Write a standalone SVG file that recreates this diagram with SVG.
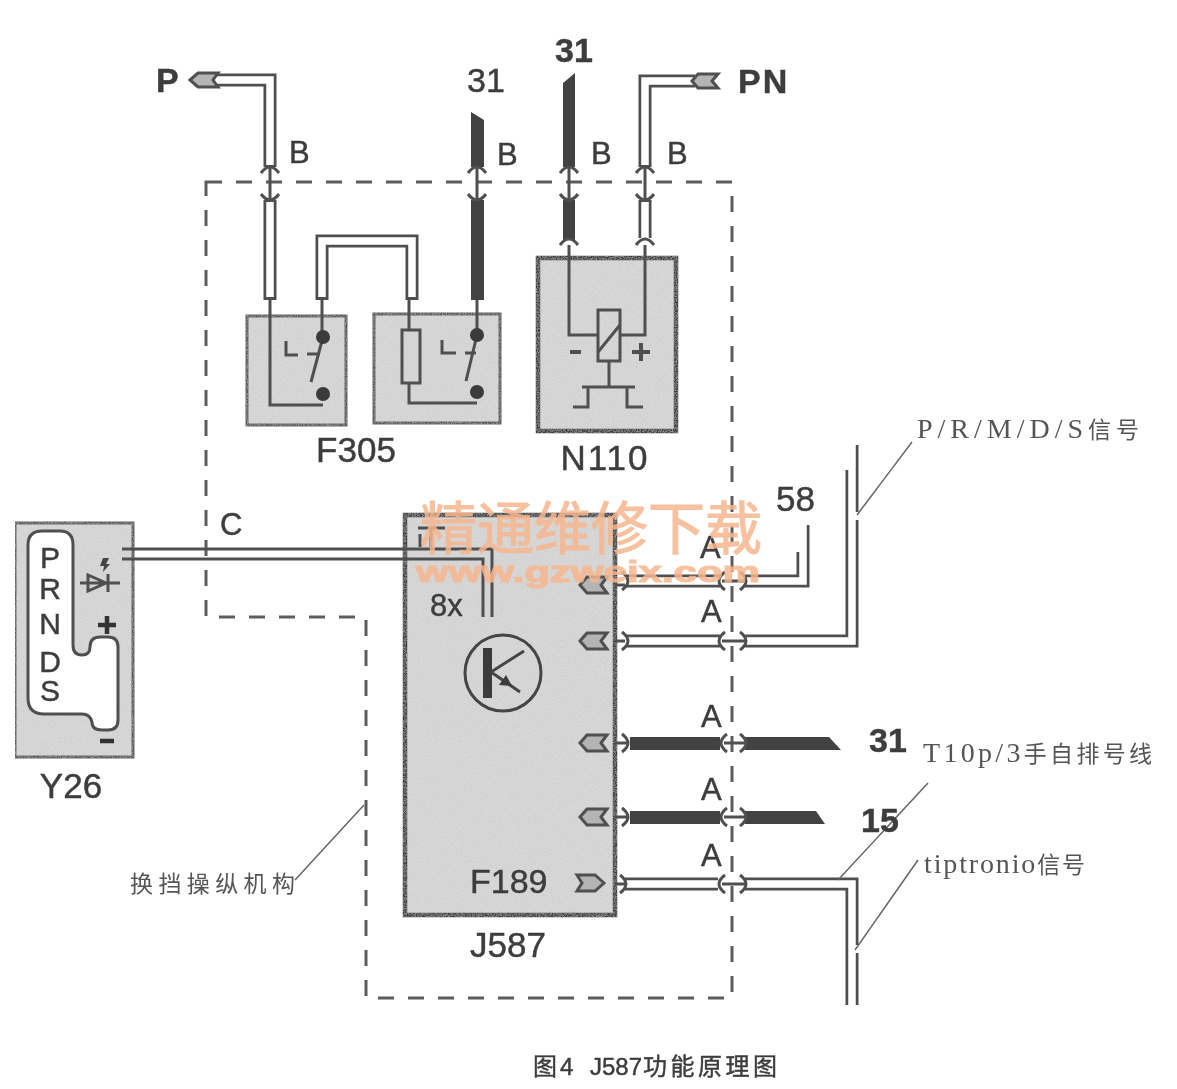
<svg xmlns="http://www.w3.org/2000/svg" width="1177" height="1089" viewBox="0 0 1177 1089">
<style>
text{font-family:"Liberation Sans","Noto Sans CJK SC",sans-serif;fill:#3c3c3c;stroke:#3c3c3c;stroke-width:.45}
.lb{font-size:35px}
.ab{font-size:31px}
.sb{font-size:34px;font-weight:700}
.cn{font-family:"Liberation Serif","Noto Sans CJK SC",serif;font-size:28px;fill:#555;stroke:none}
.cj{font-size:23px}
.box{fill:#d9d9d9;stroke:#555;stroke-width:3}
.hv{fill:#d9d9d9;stroke:#3a3a3a;stroke-width:4.5}
.ln{fill:none;stroke:#505050;stroke-width:3}
.wo{fill:none;stroke:#505050;stroke-width:13}
.wi{fill:none;stroke:#fff;stroke-width:7.5}
.bk{fill:#424242}
.th{fill:none;stroke:#505050;stroke-width:3}
.ld{fill:none;stroke:#666;stroke-width:1.5}
.dot{fill:#3a3a3a}
.cap{fill:#fff;stroke:#505050;stroke-width:3}
.pin{fill:#b4b4b4;stroke:#505050;stroke-width:3}
.wm{fill:#f6b78f;stroke:#f6b78f;stroke-width:1.2}
</style>
<defs>
<filter id="soft" x="0" y="0" width="100%" height="100%"><feGaussianBlur stdDeviation="0.5"/></filter>
<filter id="grain" x="-10%" y="-10%" width="120%" height="120%">
<feTurbulence type="fractalNoise" baseFrequency="0.8" numOctaves="2" seed="4" result="n"/>
<feColorMatrix in="n" type="matrix" values="0 0 0 0 .55  0 0 0 0 .55  0 0 0 0 .55  0 0 0 1.2 -.42" result="g"/>
<feComposite in="g" in2="SourceGraphic" operator="in" result="c"/>
<feMerge><feMergeNode in="SourceGraphic"/><feMergeNode in="c"/></feMerge>
</filter>
<path id="capT" class="cap" d="M-9,5 Q0,-7 9,5"/>
<path id="capB" class="cap" d="M-9,-5 Q0,7 9,-5"/>
<path id="capL" class="cap" d="M5,-9 Q-7,0 5,9"/>
<path id="capR" class="cap" d="M-5,-9 Q7,0 -5,9"/>
<path id="pinL" class="pin" d="M-13,0 L-6,-8 H14 L8,0 L14,8 H-6 Z"/>
</defs>

<g filter="url(#soft)">
<path id="border" fill="none" stroke="#5c5c5c" stroke-width="3" stroke-dasharray="16 14" d="M206,182 H732 V998 H366 V617 H206 Z"/>

<g id="F305">
<rect class="box" filter="url(#grain)" x="247" y="316" width="99" height="109"/>
<rect class="box" filter="url(#grain)" x="374" y="314" width="126" height="109"/>
<path class="ln" d="M270,300 V405 H323 M322,300 V337 M323,337 L311,382 M286,341 V355 H298 M307,354 H320"/>
<circle class="dot" cx="323" cy="337" r="7"/><circle class="dot" cx="323" cy="394" r="7"/>
<path class="ln" d="M409,300 V330 M409,383 V403 H477 M477,300 V335 M477,335 L466,381 M442,340 V353 H456 M465,353 H476"/>
<rect class="ln" x="402" y="330" width="18" height="53"/>
<circle class="dot" cx="477" cy="335" r="7"/><circle class="dot" cx="477" cy="392" r="7"/>
<text class="lb" x="356" y="462" text-anchor="middle">F305</text>
</g>

<g id="N110">
<rect class="hv" filter="url(#grain)" x="538" y="258" width="138" height="173"/>
<path class="ln" d="M569,240 V335 H598 M645,240 V335 H620 M598,352 L620,325 M609,361 V387 M582,387 H635 M588,387 V407 H573 M627,387 V407 H643"/>
<rect class="ln" x="598" y="310" width="22" height="51"/>
<path fill="none" stroke="#505050" stroke-width="4" d="M570,352 H581 M632,352 H650 M641,343 V361"/>
<text class="lb" x="605" y="470" text-anchor="middle" letter-spacing="2">N110</text>
</g>

<g id="Y26">
<rect class="box" filter="url(#grain)" x="15" y="523" width="118" height="234"/>
<path fill="#fff" stroke="#505050" stroke-width="3" d="M28,545 Q28,531 42,531 H60 Q73,531 73,545 V645 Q73,655 82,655 Q90,655 90,647 Q90,637 100,637 H108 Q118,637 118,647 V720 Q118,730 108,730 H102 Q92,730 92,722 Q90,714 82,714 H44 Q28,714 28,698 Z"/>
<g font-size="30" text-anchor="middle"><text x="50" y="568">P</text><text x="50" y="599">R</text><text x="50" y="634">N</text><text x="50" y="672">D</text><text x="50" y="701">S</text></g>
<path class="ln" d="M80,583 H120 M88,575 V591 L106,583 Z M108,574 V592"/>
<path fill="#444" d="M103,558 L109,558 L106,564 L110,564 L103,572 L104,566 L100,566 Z"/>
<path fill="none" stroke="#333" stroke-width="4.5" d="M98,625 H116 M107,616 V634 M100,741 H114"/>
<text class="lb" x="71" y="798" text-anchor="middle">Y26</text>
</g>

<g id="J587">
<rect class="hv" filter="url(#grain)" x="405" y="515" width="210" height="400"/>
<path class="ln" d="M418,528 H445 M431,528 V547 M420,534 V547"/>
<text x="430" y="616" font-size="31">8x</text>
<circle cx="503" cy="673" r="38" fill="none" stroke="#444" stroke-width="3"/>
<rect x="483" y="648" width="9" height="50" fill="#3a3a3a"/>
<path fill="none" stroke="#444" stroke-width="3" d="M491,672 L524,651 M491,672 L520,692"/>
<path fill="#3a3a3a" d="M512,686 L499,685 L506,675 Z"/>
<text x="470" y="893" font-size="34">F189</text>
<text class="lb" x="508" y="957" text-anchor="middle">J587</text>
<use href="#pinL" x="593" y="585"/><use href="#pinL" x="593" y="641"/><use href="#pinL" x="593" y="743"/><use href="#pinL" x="593" y="817"/>
<path class="pin" d="M604,883 L595,875 H577 L582,883 L577,891 H595 Z"/>
</g>

<g id="connectors">
<path class="wo" d="M213,80 H270 V167 M270,200 V300"/><path class="wi" d="M213,80 H270 V165 M270,202 V297"/>
<path class="pin" d="M190,80 L198,73 H218 L213,80 L218,87 H198 Z"/>
<path class="wo" d="M322,300 V241 H412 V300"/><path class="wi" d="M322,297 V241 H412 V297"/>
<path class="bk" d="M471,112 L484,120 V167 H471 Z M471,200 H484 V300 H471 Z"/>
<path class="bk" d="M563,83 L575,73 V167 H563 Z M563,200 H575 V240 H563 Z"/>
<path class="wo" d="M695,81 H645 V167 M645,200 V238"/><path class="wi" d="M695,81 H645 V165 M645,202 V238"/>
<path class="pin" d="M692,81 L698,74 H718 L712,81 L718,88 H698 Z"/>
<use href="#capT" x="270" y="168"/><use href="#capB" x="270" y="199"/>
<use href="#capT" x="477" y="168"/><use href="#capB" x="477" y="199"/>
<use href="#capT" x="569" y="168"/><use href="#capB" x="569" y="199"/>
<use href="#capT" x="645" y="168"/><use href="#capB" x="645" y="199"/>
<use href="#capT" x="569" y="240"/><use href="#capT" x="645" y="240"/>
<path class="th" d="M270,167 V200 M477,167 V200 M569,167 V200 M645,167 V200"/>
<path class="ln" d="M122,549 H492 V617 M122,559 H483 V617"/>

<path class="wo" d="M625,581 H720 M745,581 H803 V525"/><path class="wi" d="M625,581 H720 M745,581 H803 V520"/>
<rect x="792" y="518" width="9" height="34" fill="#fff"/>
<path class="wo" d="M625,641 H720 M745,641 H852 V445"/><path class="wi" d="M625,641 H720 M745,641 H852 V440"/>
<rect x="841" y="440" width="9" height="30" fill="#fff"/>
<rect x="854" y="512" width="7" height="8" fill="#fff"/>
<path class="bk" d="M630,737 H720 V750 H630 Z M745,737 H829 L841,750 H745 Z M630,811 H720 V824 H630 Z M745,811 H816 L825,824 H745 Z"/>
<path class="wo" d="M625,884 H718 M745,884 H852 V1005"/><path class="wi" d="M625,884 H718 M745,884 H852 V1008"/>
<rect x="854" y="945" width="7" height="8" fill="#fff"/>
<use href="#capR" x="627" y="581"/><use href="#capL" x="720" y="581"/><use href="#capR" x="745" y="581"/>
<use href="#capR" x="627" y="641"/><use href="#capL" x="720" y="641"/><use href="#capR" x="745" y="641"/>
<use href="#capR" x="627" y="743"/><use href="#capL" x="722" y="743"/><use href="#capR" x="745" y="743"/>
<use href="#capR" x="627" y="817"/><use href="#capL" x="722" y="817"/><use href="#capR" x="745" y="817"/>
<use href="#capR" x="625" y="884"/><use href="#capL" x="720" y="884"/><use href="#capR" x="745" y="884"/>
<path class="th" d="M615,585 H625 M615,641 H625 M615,743 H627 M615,817 H627 M615,884 H625 M722,581 H745 M722,641 H745 M724,743 H745 M724,817 H745 M722,884 H745"/>
<path class="ld" d="M857,515 L912,442 M928,783 L838,880 M918,860 L855,950 M295,880 L364,805"/>
</g>

<g id="labels">
<text class="sb" x="156" y="92">P</text>
<text x="467" y="92" font-size="34">31</text>
<text class="sb" x="555" y="62">31</text>
<text class="sb" x="738" y="93" letter-spacing="2">PN</text>
<g class="ab"><text x="289" y="163">B</text><text x="497" y="165">B</text><text x="591" y="164">B</text><text x="667" y="164">B</text>
<text x="220" y="535">C</text>
<text x="700" y="558">A</text><text x="701" y="622">A</text><text x="701" y="727">A</text><text x="701" y="800">A</text><text x="701" y="866">A</text></g>
<text x="776" y="511" font-size="35">58</text>
<text class="sb" x="869" y="752">31</text>
<text class="sb" x="861" y="832">15</text>
<text class="cn" x="917" y="438" textLength="222">P/R/M/D/S<tspan class="cj">信号</tspan></text>
<text class="cn" x="923" y="762" textLength="229">T10p/3<tspan class="cj">手自排号线</tspan></text>
<text class="cn" x="924" y="873" textLength="161">tiptronio<tspan class="cj">信号</tspan></text>
<text class="cn cj" x="130" y="892" textLength="165">换挡操纵机构</text>
<text font-size="24" y="1075"><tspan x="533">图</tspan><tspan x="560">4</tspan><tspan x="590">J587</tspan><tspan x="643" letter-spacing="3.5">功能原理图</tspan></text>
</g>
</g>
<g id="watermark" opacity=".85">
<text class="wm" x="420" y="549" font-size="57" textLength="342">精通维修下载</text>
<text class="wm" x="416" y="582" font-size="29" font-weight="700" textLength="344" lengthAdjust="spacingAndGlyphs">www.gzweix.com</text>
</g>
</svg>
